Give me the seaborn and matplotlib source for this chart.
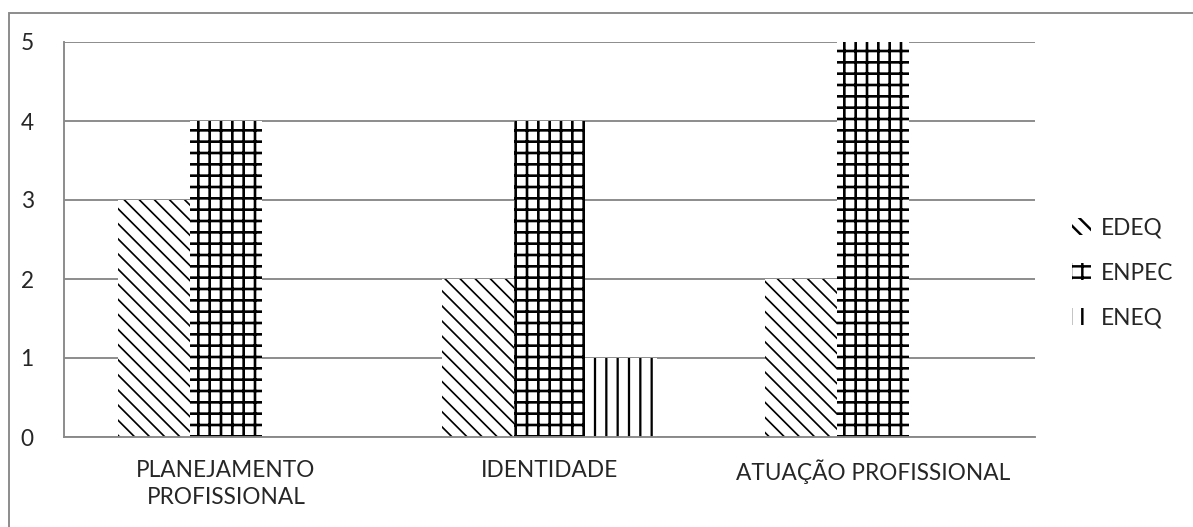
import numpy as np
import pandas as pd
import seaborn as sns
import matplotlib.pyplot as plt
from matplotlib.patches import Rectangle, Patch

# --- data ---
categories = ['PLANEJAMENTO\nPROFISSIONAL', 'IDENTIDADE', 'ATUAÇÃO PROFISSIONAL']
series = ['EDEQ', 'ENPEC', 'ENEQ']
edeq = [3, 2, 2]
enpec = [4, 4, 5]
eneq = [0, 1, 0]
y_ticks = [0, 1, 2, 3, 4, 5]

df = pd.DataFrame({
    'categoria': categories * 3,
    'evento': [s for s in series for _ in categories],
    'valor': edeq + enpec + eneq,
})

hatches = {'EDEQ': '\\\\\\', 'ENPEC': '++', 'ENEQ': '||'}
hatch_lw = {'EDEQ': 0.9, 'ENPEC': 1.4, 'ENEQ': 1.2}
grey = '#898989'

sns.set_style('white')
plt.rcParams['font.family'] = ['Lato', 'DejaVu Sans']
plt.rcParams['hatch.linewidth'] = 1.3


def style_hatch(p, s):
    p.set_hatch(hatches[s])
    p.set_edgecolor('black')
    p.set_linewidth(0)
    if hasattr(p, 'set_hatch_linewidth'):
        p.set_hatch_linewidth(hatch_lw[s])


DPI = 136
fig = plt.figure(figsize=(1193 / DPI, 527 / DPI), dpi=DPI)
W, H = 1193, 527
ax = fig.add_axes([64 / W, 1 - 437 / H, (1035 - 64) / W, (437 - 42) / H])

sns.barplot(data=df, x='categoria', y='valor', hue='evento', order=categories,
            hue_order=series, width=0.667, palette=['white'] * 3,
            edgecolor='black', linewidth=0, ax=ax, legend=False)

for cont, s in zip(ax.containers, series):
    for bar in cont:
        style_hatch(bar, s)

ax.set_xlim(-0.5, 2.5)
ax.set_ylim(0, 5)
ax.set_yticks(y_ticks)
ax.yaxis.grid(True, color=grey, linewidth=1.0)
ax.set_axisbelow(True)
ax.set_xlabel('')
ax.set_ylabel('')

for side in ['top', 'right']:
    ax.spines[side].set_visible(False)
for side in ['left', 'bottom']:
    ax.spines[side].set_color(grey)
    ax.spines[side].set_linewidth(1.0)

ax.tick_params(axis='y', length=4, width=1.0, color=grey, pad=12, labelsize=12)
ax.tick_params(axis='x', which='major', length=0, pad=12, labelsize=12)
ax.set_xticks([-0.5, 0.5, 1.5, 2.5], minor=True)
ax.tick_params(axis='x', which='minor', length=4, width=1.0, color=grey)
for lbl in ax.get_xticklabels():
    lbl.set_multialignment('center')
    lbl.set_linespacing(1.35)

handles = []
for s in series:
    h = Patch(facecolor='white', label=s)
    style_hatch(h, s)
    handles.append(h)
fig.legend(handles=handles, loc='center left', bbox_to_anchor=(1052 / W, 1 - 273 / H),
           frameon=False, fontsize=12, handlelength=0.8, handleheight=0.8,
           handletextpad=0.45, labelspacing=1.05)

# outer chart-area border
fig.patches.append(Rectangle((9 / W, -0.1), 1.2, 1.1 - 13 / H, transform=fig.transFigure,
                             fill=False, edgecolor=grey, linewidth=1.0))

fig.savefig('out.png', dpi=DPI)
